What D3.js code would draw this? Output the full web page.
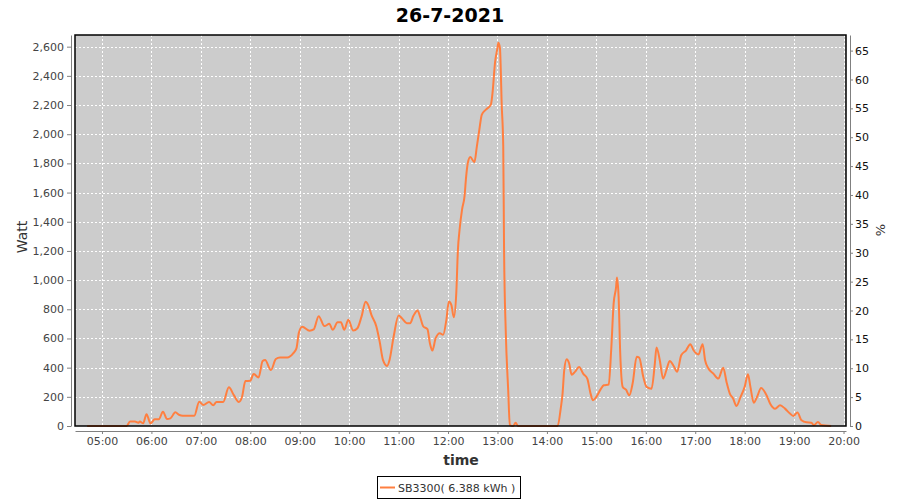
<!DOCTYPE html>
<html>
<head>
<meta charset="utf-8">
<script src="https://cdn.jsdelivr.net/npm/d3@7"></script>
<style>
  body { margin: 0; background: #fff; }
  svg { display: block; font-family: "DejaVu Sans", sans-serif; }
</style>
</head>
<body>
<div id="chart"></div>
<script>
var title = "26-7-2021"
var seriesName = "SB3300( 6.388 kWh )"

// readings (time of day, watt)
var times = ["04:42","05:30","05:34","05:40","05:44","05:46","05:50","05:54","05:59","06:04","06:09","06:14","06:19","06:23","06:29","06:34","06:38","06:52","06:58","07:03","07:10","07:15","07:19","07:27","07:34","07:40","07:46","07:50","07:54","08:00","08:04","08:10","08:15","08:18","08:25","08:31","08:36","08:45","08:52","08:56","08:59","09:03","09:12","09:17","09:23","09:30","09:36","09:40","09:46","09:50","09:54","09:59","10:05","10:10","10:15","10:20","10:23","10:27","10:33","10:37","10:41","10:46","10:49","10:54","11:00","11:04","11:10","11:14","11:18","11:23","11:26","11:30","11:35","11:38","11:41","11:45","11:50","11:54","11:58","12:01","12:04","12:07","12:10","12:12","12:14","12:17","12:20","12:22","12:24","12:27","12:32","12:35","12:38","12:41","12:46","12:52","12:54","12:57","13:00","13:01","13:03","13:04","13:05","13:07","13:08","13:10","13:13","13:15","13:19","13:22","13:25","14:13","14:17","14:19","14:21","14:24","14:27","14:30","14:34","14:39","14:44","14:49","14:53","14:56","15:00","15:05","15:09","15:15","15:18","15:21","15:24","15:25","15:27","15:29","15:32","15:36","15:40","15:44","15:49","15:52","15:57","16:01","16:07","16:11","16:13","16:17","16:21","16:25","16:29","16:34","16:38","16:43","16:49","16:54","16:58","17:04","17:09","17:12","17:16","17:22","17:28","17:34","17:38","17:42","17:46","17:50","17:55","18:00","18:04","18:07","18:11","18:15","18:20","18:27","18:31","18:37","18:43","18:49","18:55","18:59","19:04","19:09","19:15","19:21","19:24","19:29","19:33","19:45"]
var watts = [0,0,30,30,22,30,18,80,18,46,46,98,48,52,94,75,71,70,167,144,164,142,164,164,265,212,164,200,308,310,356,333,445,452,384,459,470,470,498,532,640,680,653,662,753,685,700,659,711,711,659,728,654,670,750,851,830,762,682,579,453,412,453,613,757,739,705,705,755,792,750,682,664,567,517,602,636,625,728,853,830,746,911,1208,1345,1483,1574,1711,1803,1844,1808,1917,2032,2135,2169,2203,2283,2489,2592,2627,2592,2444,2226,1917,1208,659,247,7,0,23,0,0,130,222,382,458,428,352,371,405,359,325,222,176,199,249,279,284,519,840,954,1018,885,496,268,249,210,291,474,469,336,268,256,428,538,451,325,382,446,410,371,485,519,561,519,490,561,451,394,359,325,400,302,222,188,137,199,268,355,268,160,199,261,206,153,119,142,119,85,69,92,39,25,23,5,27,7,0]

var wattTicks = [0,200,400,600,800,1000,1200,1400,1600,1800,2000,2200,2400,2600]
var pctTicks = [0,5,10,15,20,25,30,35,40,45,50,55,60,65]
var hourTicks = ["05:00","06:00","07:00","08:00","09:00","10:00","11:00","12:00","13:00","14:00","15:00","16:00","17:00","18:00","19:00","20:00"]

var W = 900, H = 500
var pL = 75, pR = 846, pT = 35, pB = 426

var parse = d3.timeParse("%H:%M")
var fmt = d3.timeFormat("%H:%M")
var data = times.map((t,i)=>({t: parse(t), w: watts[i]}))

var x = d3.scaleTime()
  .domain([new Date(1900,0,1,4,27,15), new Date(1900,0,1,20,3,0)])
  .range([pL, pR])
var y = d3.scaleLinear().domain([0, 2680]).range([pB, pT])
var yPct = d3.scaleLinear().domain([0, 67.7]).range([pB, pT])

var svg = d3.select("#chart").append("svg")
  .attr("width", W)
  .attr("height", H)

svg.append("text")
  .attr("x", 450).attr("y", 22)
  .attr("text-anchor", "middle")
  .style("font-size", "19px").style("font-weight", "bold")
  .text(title)

// plot background
svg.append("rect")
  .attr("x", pL).attr("y", pT)
  .attr("width", pR-pL).attr("height", pB-pT)
  .attr("fill", "#cccccc")

// grid
var grid = svg.append("g")
grid.selectAll(".vg").data(hourTicks.map(parse)).enter()
  .append("line")
  .attr("x1", d=>Math.round(x(d))+0.5).attr("x2", d=>Math.round(x(d))+0.5)
  .attr("y1", pT).attr("y2", pB)
  .attr("stroke", "#fff").attr("stroke-dasharray", "2,2")
grid.selectAll(".hg").data(wattTicks.slice(1)).enter()
  .append("line")
  .attr("x1", pL).attr("x2", pR)
  .attr("y1", d=>Math.round(y(d))+0.5).attr("y2", d=>Math.round(y(d))+0.5)
  .attr("stroke", "#fff").attr("stroke-dasharray", "2,2")

// series
var line = d3.line().x(d=>x(d.t)).y(d=>y(d.w)).curve(d3.curveMonotoneX)
svg.append("path")
  .datum(data)
  .attr("d", line)
  .attr("fill", "none")
  .attr("stroke", "#ff7f40")
  .attr("stroke-width", 2)
  .attr("stroke-linejoin", "round")

// plot outline
svg.append("rect")
  .attr("x", pL).attr("y", pT)
  .attr("width", pR-pL).attr("height", pB-pT)
  .attr("fill", "none").attr("stroke", "#000").attr("stroke-width", 1.5)

// axes
var xAxis = d3.axisBottom(x).tickValues(hourTicks.map(parse)).tickFormat(fmt).tickSize(3).tickSizeOuter(0)
var gx = svg.append("g").attr("transform", "translate(0,431)").call(xAxis)
var yAxis = d3.axisLeft(y).tickValues(wattTicks).tickFormat(d3.format(",")).tickSize(4).tickSizeOuter(0)
var gy = svg.append("g").attr("transform", "translate(71,0)").call(yAxis)
var rAxis = d3.axisRight(yPct).tickValues(pctTicks).tickSize(3).tickSizeOuter(0)
var gr = svg.append("g").attr("transform", "translate(850,0)").call(rAxis)

;[gx, gy, gr].forEach(g=>{
  g.select(".domain").attr("stroke", "#808080")
  g.selectAll(".tick line").attr("stroke", "#808080")
  g.selectAll("text").style("font-family", "DejaVu Sans").style("font-size", "11px").attr("fill", "#444")
})
gr.selectAll("text").attr("fill", "#111").attr("x", 5)
gx.selectAll("text").attr("y", 6)
gy.selectAll("text").attr("x", -7)

svg.append("text")
  .attr("transform", "translate(27,237) rotate(-90)")
  .attr("text-anchor", "middle")
  .style("font-size", "14px").attr("fill", "#333")
  .text("Watt")
svg.append("text")
  .attr("transform", "translate(885,230) rotate(-90)")
  .attr("text-anchor", "middle")
  .style("font-size", "13px").attr("fill", "#333")
  .text("%")
svg.append("text")
  .attr("x", 461).attr("y", 465)
  .attr("text-anchor", "middle")
  .style("font-size", "14px").style("font-weight", "bold").attr("fill", "#333")
  .text("time")

// legend
var lg = svg.append("g")
lg.append("rect")
  .attr("x", 377.5).attr("y", 476.5).attr("width", 143).attr("height", 22)
  .attr("fill", "#fff").attr("stroke", "#000")
lg.append("line")
  .attr("x1", 380).attr("x2", 395).attr("y1", 487.5).attr("y2", 487.5)
  .attr("stroke", "#ff7f40").attr("stroke-width", 2)
lg.append("text")
  .attr("x", 398).attr("y", 492)
  .style("font-size", "11px").attr("fill", "#333")
  .text(seriesName)
</script>
</body>
</html>
